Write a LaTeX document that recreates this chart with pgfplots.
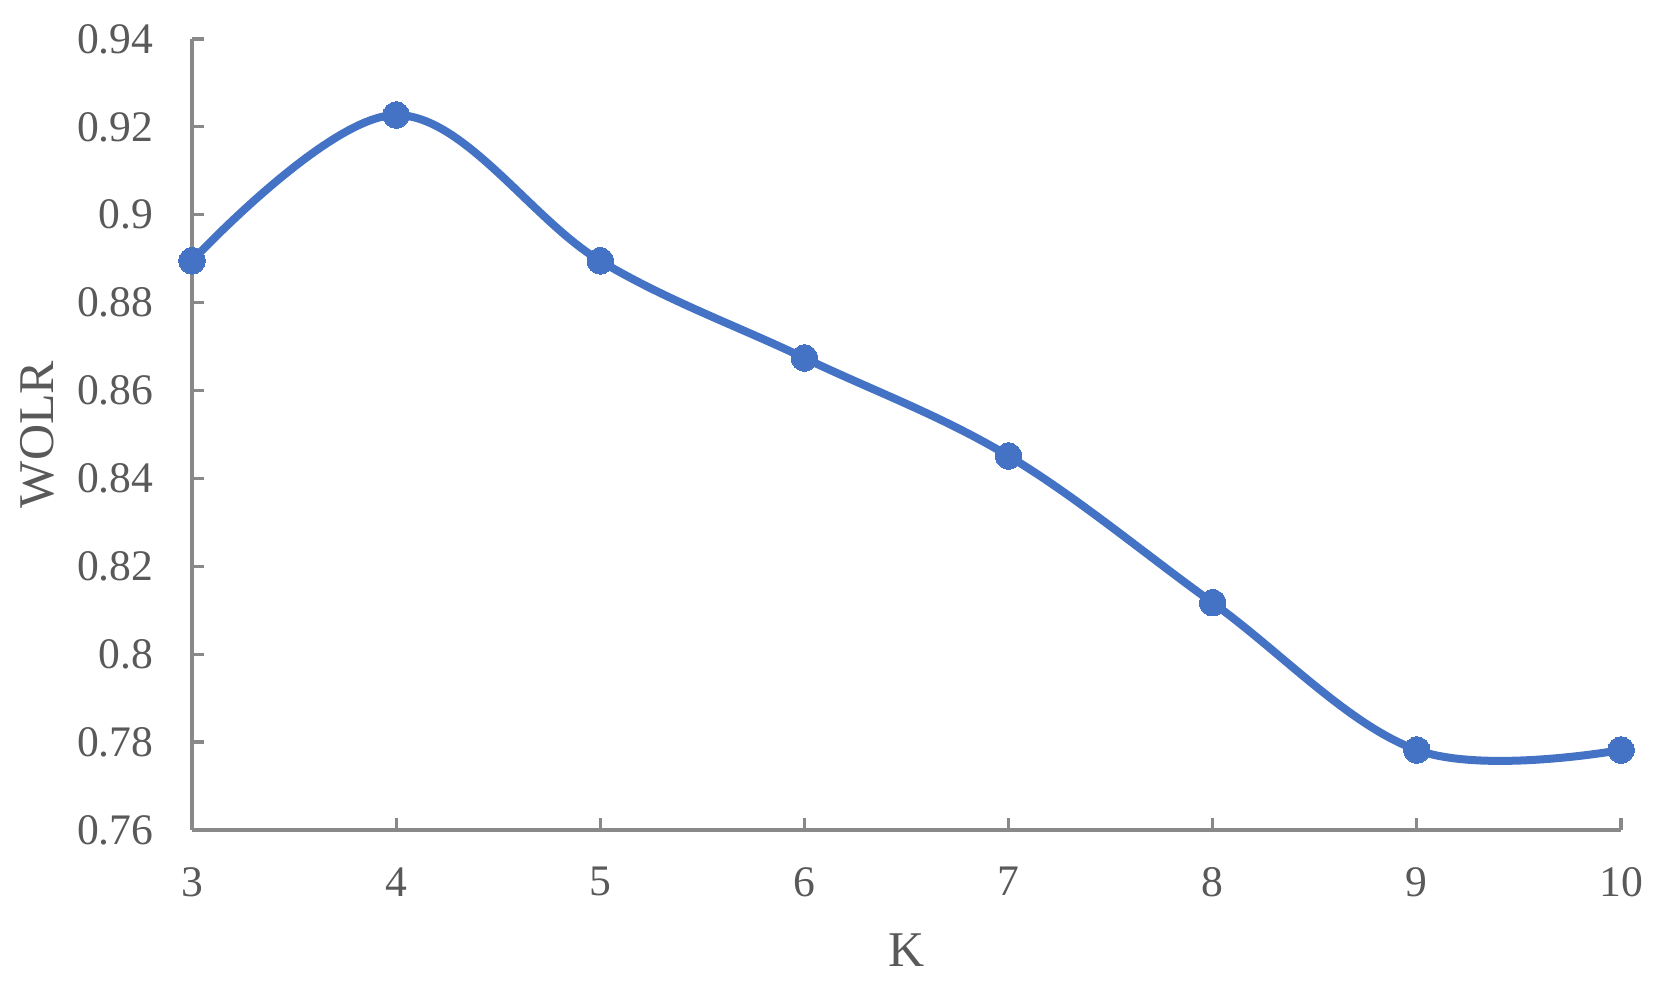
\documentclass[border=0pt]{standalone}
\usepackage{fontspec}
\setmainfont{Liberation Serif}
\usepackage{pgfplots}
\pgfplotsset{compat=1.18}
\definecolor{excelblue}{HTML}{4472C4}
\definecolor{axisgray}{HTML}{898989}
\definecolor{textgray}{HTML}{595959}
\begin{document}
\begin{tikzpicture}
\begin{axis}[
    scale only axis,
    width=357.25pt, height=197.75pt,
    xmin=3, xmax=10,
    ymin=0.76, ymax=0.94,
    xtick={3,4,5,6,7,8,9,10},
    ytick={0.76,0.78,0.8,0.82,0.84,0.86,0.88,0.9,0.92,0.94},
    axis x line*=bottom, axis y line*=left,
    axis line style={axisgray, line width=0.8pt, -},
    tick style={axisgray, line width=0.8pt},
    tick align=inside,
    major tick length=3pt,
    every tick label/.append style={font=\fontsize{10.9}{13}\selectfont, text=textgray},
    /pgf/number format/assume math mode=true,
    yticklabel style={xshift=-6.1pt},
    xticklabel style={yshift=-5.8pt},
    xlabel={K}, ylabel={WOLR},
    label style={font=\fontsize{12.5}{15}\selectfont, text=textgray},
    xlabel style={at={(axis description cs:0.5,0)}, anchor=center, yshift=-30pt},
    ylabel style={at={(axis description cs:0,0.5)}, anchor=center, rotate=0, yshift=38.75pt},
    clip=false,
]
\addplot[excelblue, line width=2pt, smooth, tension=0.6,
    mark=*, mark size=3.3pt, mark options={solid, fill=excelblue, draw=excelblue, line width=0pt}]
    coordinates {
    (3, 0.8895) (4, 0.9227) (5, 0.8895) (6, 0.8674)
    (7, 0.8451) (8, 0.8117) (9, 0.7782) (10, 0.7782)
    };
\end{axis}
\path ([shift={(-48pt,-39.75pt)}]current axis.south west) rectangle ([shift={(11pt,9.75pt)}]current axis.north east);
\end{tikzpicture}
\end{document}
